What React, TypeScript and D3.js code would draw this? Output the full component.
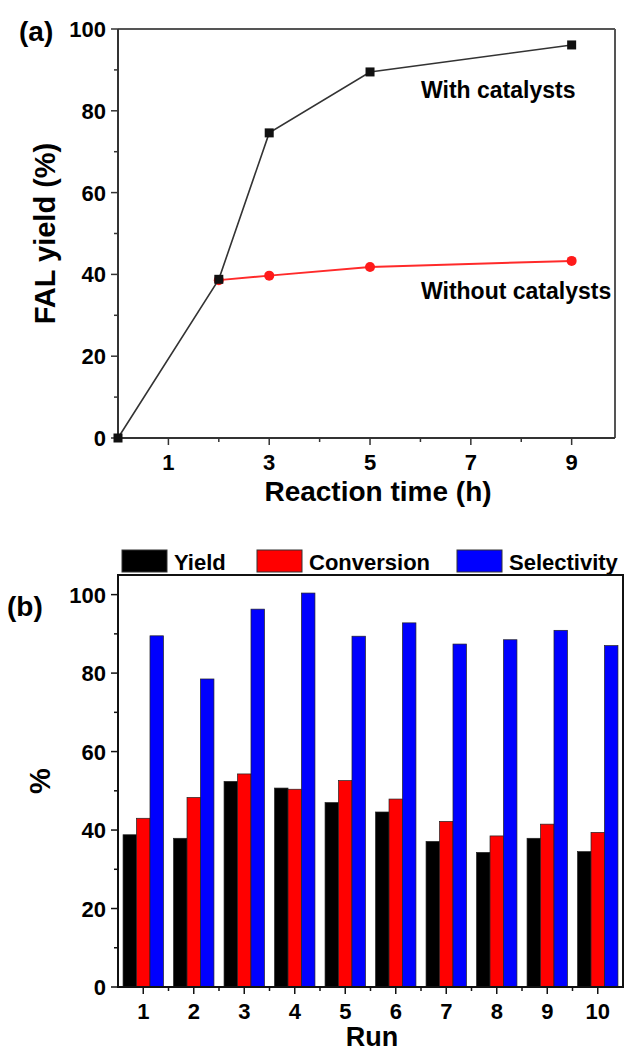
import React from "react";
import * as d3 from "d3";

// panel (a): FAL yield vs reaction time
const hours = [0, 2, 3, 5, 9];
const withCatalysts = [0, 38.8, 74.6, 89.5, 96.1];
const hoursNoCat = [2, 3, 5, 9];
const withoutCatalysts = [38.6, 39.7, 41.8, 43.3];
const timeTicks = [1, 3, 5, 7, 9];
const yieldTicks = [0, 20, 40, 60, 80, 100];

// panel (b): recycling runs
const runs = [1, 2, 3, 4, 5, 6, 7, 8, 9, 10];
const yieldRun = [38.8, 37.9, 52.4, 50.7, 47.0, 44.6, 37.1, 34.3, 37.9, 34.5];
const conversionRun = [43.0, 48.3, 54.3, 50.4, 52.6, 47.9, 42.2, 38.5, 41.5, 39.4];
const selectivityRun = [89.5, 78.5, 96.3, 100.4, 89.4, 92.8, 87.4, 88.5, 90.9, 87.0];
const seriesNames = ["Yield", "Conversion", "Selectivity"];
const seriesColors = ["#000000", "#ff0000", "#0000ff"];
const pctTicks = [0, 20, 40, 60, 80, 100];

const FONT = "'Liberation Sans', Arial, Helvetica, sans-serif";

const App = () => {
    // ---- panel (a) scales
    const xA = d3.scaleLinear().domain([0, 9.86]).range([118, 615]);
    const yA = d3.scaleLinear().domain([0, 100]).range([438, 29]);

    const lineA = d3.line<[number, number]>()
        .x(d => xA(d[0]))
        .y(d => yA(d[1]));

    const blackPts: [number, number][] = hours.map((h, i) => [h, withCatalysts[i]]);
    const redPts: [number, number][] = hoursNoCat.map((h, i) => [h, withoutCatalysts[i]]);

    // ---- panel (b) scales
    const xB = d3.scaleLinear().domain([0.5, 10.5]).range([118, 623]);
    const yB = d3.scaleLinear().domain([0, 105]).range([987, 575]);
    const unit = xB(2) - xB(1);
    const inner = d3.scaleBand<string>()
        .domain(seriesNames)
        .range([-unit * 0.4, unit * 0.4])
        .padding(0);
    const seriesValues = [yieldRun, conversionRun, selectivityRun];

    const minorA = d3.range(10, 100, 20);
    const minorTimeA = d3.range(0, 10, 2);
    const minorB = d3.range(10, 105, 20);
    const minorRunB = d3.range(1.5, 10.5, 1);

    const bold = { fontFamily: FONT, fontWeight: 700 as const };

    return (
        <svg
            width={625}
            height={1053}
            style={{ position: "absolute", left: 0, top: 0, background: "#fff" }}
        >
            {/* ================= (a) ================= */}
            <text x={19} y={41} fontSize={28} {...bold}>(a)</text>

            {/* frame */}
            <line x1={118} y1={29} x2={615} y2={29} stroke="#555" strokeWidth={2} />
            <line x1={615} y1={29} x2={615} y2={438} stroke="#555" strokeWidth={2} />
            <line x1={118} y1={29} x2={118} y2={438} stroke="#333" strokeWidth={2} />
            <line x1={118} y1={438} x2={615} y2={438} stroke="#333" strokeWidth={2} />

            {/* y ticks */}
            {yieldTicks.map(t => (
                <g key={"ya" + t}>
                    <line x1={111} x2={118} y1={yA(t)} y2={yA(t)} stroke="#333" strokeWidth={1.5} />
                    <text x={106} y={yA(t) + 8} fontSize={22} textAnchor="end" {...bold}>{t}</text>
                </g>
            ))}
            {minorA.map(t => (
                <line key={"yam" + t} x1={114} x2={118} y1={yA(t)} y2={yA(t)} stroke="#333" strokeWidth={1.5} />
            ))}

            {/* x ticks */}
            {timeTicks.map(t => (
                <g key={"xa" + t}>
                    <line x1={xA(t)} x2={xA(t)} y1={438} y2={445} stroke="#333" strokeWidth={1.5} />
                    <text x={xA(t)} y={470} fontSize={22} textAnchor="middle" {...bold}>{t}</text>
                </g>
            ))}
            {minorTimeA.map(t => (
                <line key={"xam" + t} x1={xA(t)} x2={xA(t)} y1={438} y2={442} stroke="#333" strokeWidth={1.5} />
            ))}

            <text x={378} y={501} fontSize={28} textAnchor="middle" {...bold}>Reaction time (h)</text>
            <text
                transform={`translate(55, ${(29 + 438) / 2}) rotate(-90)`}
                fontSize={29}
                textAnchor="middle"
                {...bold}
            >
                FAL yield (%)
            </text>

            {/* series */}
            <path d={lineA(redPts) || ""} fill="none" stroke="#ff2a2a" strokeWidth={2} />
            {redPts.map(p => (
                <circle key={"r" + p[0]} cx={xA(p[0])} cy={yA(p[1])} r={5} fill="#ff1a1a" />
            ))}
            <path d={lineA(blackPts) || ""} fill="none" stroke="#333" strokeWidth={1.6} />
            {blackPts.map(p => (
                <rect key={"b" + p[0]} x={xA(p[0]) - 4.5} y={yA(p[1]) - 4.5} width={9} height={9} fill="#111" />
            ))}

            <text x={421} y={98} fontSize={23} {...bold}>With catalysts</text>
            <text x={421} y={299} fontSize={23} {...bold}>Without catalysts</text>

            {/* ================= (b) ================= */}
            <text x={7} y={616} fontSize={28} {...bold}>(b)</text>

            {/* legend */}
            {seriesNames.map((s, i) => {
                const lx = [122, 257, 457][i];
                return (
                    <g key={"lg" + s}>
                        <rect x={lx} y={550} width={45} height={22} fill={seriesColors[i]} stroke="#333" strokeWidth={1} />
                        <text x={lx + 52} y={570} fontSize={22} {...bold}>{s}</text>
                    </g>
                );
            })}

            {/* bars */}
            {seriesValues.map((vals, si) =>
                runs.map((r, i) => (
                    <rect
                        key={"bar" + si + "-" + r}
                        x={xB(r) + (inner(seriesNames[si]) as number)}
                        y={yB(vals[i])}
                        width={inner.bandwidth()}
                        height={yB(0) - yB(vals[i])}
                        fill={seriesColors[si]}
                        stroke="#222"
                        strokeWidth={0.7}
                    />
                ))
            )}

            {/* frame */}
            <rect x={118} y={575} width={623 - 118} height={987 - 575} fill="none" stroke="#111" strokeWidth={2} />

            {pctTicks.map(t => (
                <g key={"yb" + t}>
                    <line x1={111} x2={118} y1={yB(t)} y2={yB(t)} stroke="#111" strokeWidth={1.5} />
                    <text x={106} y={yB(t) + 8} fontSize={22} textAnchor="end" {...bold}>{t}</text>
                </g>
            ))}
            {minorB.map(t => (
                <line key={"ybm" + t} x1={114} x2={118} y1={yB(t)} y2={yB(t)} stroke="#111" strokeWidth={1.5} />
            ))}
            {runs.map(r => (
                <g key={"xb" + r}>
                    <line x1={xB(r)} x2={xB(r)} y1={987} y2={994} stroke="#111" strokeWidth={1.5} />
                    <text x={xB(r)} y={1019} fontSize={22} textAnchor="middle" {...bold}>{r}</text>
                </g>
            ))}
            {minorRunB.map(t => (
                <line key={"xbm" + t} x1={xB(t)} x2={xB(t)} y1={987} y2={991} stroke="#111" strokeWidth={1.5} />
            ))}

            <text x={372} y={1046} fontSize={27} textAnchor="middle" {...bold}>Run</text>
            <text
                transform={`translate(50, ${(575 + 987) / 2}) rotate(-90)`}
                fontSize={29}
                textAnchor="middle"
                {...bold}
            >
                %
            </text>
        </svg>
    );
};

export default App;
